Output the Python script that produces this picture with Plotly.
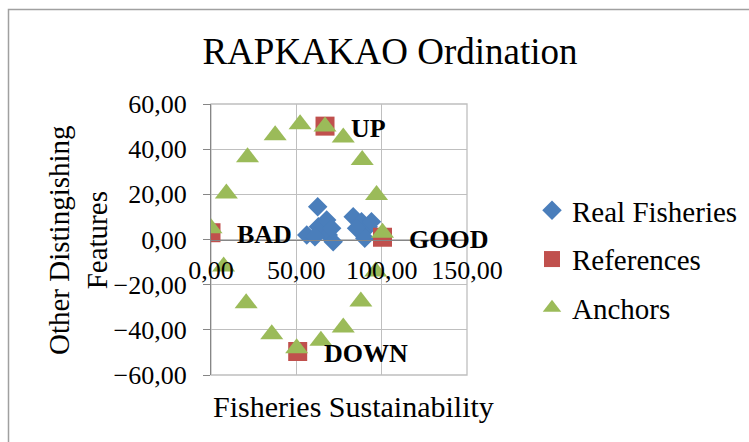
import plotly.graph_objects as go

# Real fisheries (diamonds)
fish_x = [62.5, 56.1, 62.9, 67.8, 68.7, 71.6, 60.9, 70.7, 83.3, 88.2, 92.1, 85.3, 90.1, 94.0]
fish_y = [14.5, 2.0, 5.7, 8.6, 2.0, -1.0, 1.2, 5.0, 10.1, 7.9, 5.7, 5.0, 0.5, 7.9]

# References (squares)
ref_x = [0.0, 100.5, 66.8, 50.8]
ref_y = [3.0, 1.0, 50.2, -49.6]
ref_labels = ["BAD", "GOOD", "UP", "DOWN"]

# Anchors (triangles)
anc_x = [0.0, 9.0, 21.4, 37.6, 52.2, 66.8, 77.5, 88.6, 97.0, 100.5, 96.5, 87.8, 77.5, 64.4, 50.2, 35.6, 20.6, 7.4]
anc_y = [5.0, 20.4, 36.4, 46.2, 51.0, 50.0, 45.2, 35.2, 19.7, 3.0, -14.2, -27.5, -39.0, -44.8, -48.2, -42.0, -28.2, -12.0]

x_ticks = [0, 50, 100, 150]
y_ticks = [-60, -40, -20, 0, 20, 40, 60]

FONT = "Liberation Serif, Times New Roman, serif"

W, H = 749, 442
L, R, T, B = 211, 282, 104, 67
pw, ph = W - L - R, H - T - B

def px_x(p):
    return (p - L) / pw

def px_y(p):
    return (H - B - p) / ph

fig = go.Figure()
fig.add_trace(go.Scatter(
    x=fish_x, y=fish_y, mode="markers", name="Real Fisheries", legendgroup="a",
    marker=dict(symbol="diamond", size=15, color="#4A7EBB"),
))
fig.add_trace(go.Scatter(
    x=ref_x, y=ref_y, mode="markers", name="References", legendgroup="b",
    marker=dict(symbol="square", size=19, color="#C0504D"),
))
fig.add_trace(go.Scatter(
    x=anc_x, y=anc_y, mode="markers", name="Anchors", legendgroup="c",
    marker=dict(symbol="triangle-up", size=20, color="#9BBB59"),
))

for xv, yv, lab in zip(ref_x, ref_y, ref_labels):
    fig.add_annotation(x=xv, y=yv, text="<b>" + lab + "</b>", showarrow=False,
                       xanchor="left", yanchor="middle", xshift=24, yshift=-2,
                       font=dict(family=FONT, size=26, color="black"))

fig.add_annotation(x=px_x(353), y=px_y(406), xref="paper", yref="paper",
                   text="Fisheries Sustainability", showarrow=False,
                   xanchor="center", yanchor="middle",
                   font=dict(family=FONT, size=30, color="black"))
fig.add_annotation(x=px_x(78), y=px_y(240), xref="paper", yref="paper",
                   text="Other Distingishing<br>Features", showarrow=False, textangle=-90,
                   xanchor="center", yanchor="middle",
                   font=dict(family=FONT, size=29, color="black"))

# chart border
fig.add_shape(type="rect", xref="paper", yref="paper",
              x0=px_x(8.5), x1=px_x(760), y0=px_y(460), y1=px_y(9.5),
              line=dict(color="#A0A0A0", width=1.5), fillcolor="rgba(0,0,0,0)", layer="below")
# plot-area edge gridlines (top / right / bottom)
fig.add_shape(type="rect", xref="paper", yref="paper", x0=0, x1=1, y0=0, y1=1,
              line=dict(color="#BFBFBF", width=1.3), fillcolor="rgba(0,0,0,0)", layer="below")

fig.update_layout(
    width=W, height=H,
    margin=dict(l=L, r=R, t=T, b=B, autoexpand=False),
    paper_bgcolor="white", plot_bgcolor="white",
    separators=", ",
    title=dict(text="RAPKAKAO Ordination", x=390 / W, xanchor="center",
               y=1 - 51 / H, yanchor="middle",
               font=dict(family=FONT, size=37, color="black")),
    font=dict(family=FONT, color="black"),
    legend=dict(x=px_x(532), y=px_y(185), xanchor="left", yanchor="top",
                font=dict(family=FONT, size=29, color="black"),
                tracegroupgap=8, bgcolor="rgba(0,0,0,0)"),
    xaxis=dict(range=[0, 150], tickvals=x_ticks, tickformat=".2f",
               showgrid=True, gridcolor="#BFBFBF", gridwidth=1.3,
               zeroline=False, showline=True, linecolor="#868686", linewidth=1.3,
               anchor="free", position=0.5, ticks="",
               ticklabelstandoff=7,
               tickfont=dict(family=FONT, size=26, color="black")),
    yaxis=dict(range=[-60, 60], tickvals=y_ticks, tickformat=".2f",
               showgrid=True, gridcolor="#BFBFBF", gridwidth=1.3,
               zeroline=False, showline=True, linecolor="#868686", linewidth=1.3,
               ticks="outside", ticklen=7, tickcolor="#868686",
               ticklabelstandoff=11,
               tickfont=dict(family=FONT, size=26, color="black")),
)

fig.write_html("out.html", post_script="document.body.style.margin='0';",
               config={"displayModeBar": False})
